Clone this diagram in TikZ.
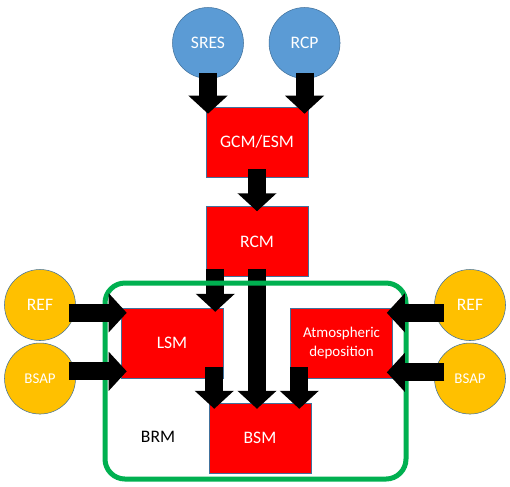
\documentclass[tikz,border=0pt]{standalone}
\usepackage{fontspec}
\setmainfont{Carlito}
\usepackage{tikz}
\usetikzlibrary{arrows.meta,positioning,calc}

\definecolor{modelred}{HTML}{FF0000}
\definecolor{driverblue}{HTML}{5B9BD5}
\definecolor{inputorange}{HTML}{FFC000}
\definecolor{edgeblue}{HTML}{41719C}
\definecolor{brmgreen}{HTML}{00B050}

\begin{document}
\begin{tikzpicture}[
    font=\fontsize{10}{11}\selectfont,
    % common styles
    model/.style={draw=edgeblue, line width=0.3pt, rectangle, minimum width=2.04cm, minimum height=1.4cm, align=center, fill=modelred, text=white, inner sep=1pt},
    driver/.style={draw=edgeblue, line width=0.3pt, circle, minimum size=1.42cm, inner sep=0pt, fill=driverblue, text=white},
    input/.style={draw=edgeblue, line width=0.3pt, circle, minimum size=1.42cm, inner sep=0pt, fill=inputorange, text=white},
    small/.style={font=\fontsize{8.5}{11.2}\selectfont},
    flow/.style={draw=black, line width=0.36cm, -{Triangle[length=0.36cm, width=0.76cm]}},
    brmbox/.style={draw=brmgreen, line width=0.1cm, rounded corners=0.4cm}
]
    \useasboundingbox (0,0) rectangle (10.2,-9.72);

    % --- 1. Nodes ---

    % scenarios on top
    \node[driver] (sres) at (4.16,-0.86) {SRES};
    \node[driver, right=0.5cm of sres] (rcp) {RCP};

    % model chain
    \node[model] (gcm) at (5.14,-2.84) {GCM/ESM};
    \node[model, below=0.58cm of gcm] (rcm) {RCM};
    \node[model, below=0.62cm of rcm, xshift=-1.7cm] (lsm) {LSM};
    \node[model, small, right=1.34cm of lsm] (atm) {Atmospheric\\deposition};
    \node[model, below=2.52cm of rcm, xshift=0.06cm] (bsm) {BSM};

    % inputs on both sides
    \node[input] (refL) at (0.80,-6.10) {REF};
    \node[input, small, below=0.04cm of refL] (bsapL) {BSAP};
    \node[input] (refR) at (9.40,-6.10) {REF};
    \node[input, small, below=0.04cm of refR] (bsapR) {BSAP};

    % --- 2. Paths ---

    % RCM -> LSM, RCM -> BSM (under the BRM frame)
    \draw[flow] ($(rcm.south -| lsm.east)+(-0.16,0.16)$) -- ($(lsm.north east)+(-0.16,-0.08)$);
    \draw[flow] ($(rcm.south)+(0,0.16)$) -- ($(rcm.south |- bsm.north)+(0,-0.12)$);

    % BRM frame
    \draw[brmbox] (2.1,-5.66) rectangle (8.12,-9.58);
    \node (brm) at (3.16,-8.74) {BRM};

    % scenarios -> GCM/ESM -> RCM
    \draw[flow] ($(sres.south)+(0,0.12)$) -- ($(sres |- gcm.north)+(0,-0.14)$);
    \draw[flow] ($(rcp.south)+(0,0.12)$) -- ($(rcp |- gcm.north)+(0,-0.14)$);
    \draw[flow] ($(gcm.south)+(0,0.16)$) -- ($(rcm.north)+(0,-0.1)$);

    % LSM, deposition -> BSM
    \draw[flow] ($(lsm.south east)+(-0.18,0.22)$) -- ($(lsm.south east |- bsm.north)+(-0.18,-0.12)$);
    \draw[flow] ($(atm.south west)+(0.18,0.22)$) -- ($(atm.south west |- bsm.north)+(0.18,-0.12)$);

    % side inputs
    \draw[flow] ($(refL.east |- lsm.north west)+(-0.14,-0.1)$) -- ($(lsm.north west)+(0.12,-0.1)$);
    \draw[flow] ($(bsapL.east |- lsm.south west)+(-0.14,0.14)$) -- ($(lsm.south west)+(0.12,0.14)$);
    \draw[flow] ($(refR.west |- atm.north east)+(0.2,-0.1)$) -- ($(atm.north east)+(-0.12,-0.1)$);
    \draw[flow] ($(bsapR.west |- atm.south east)+(0.2,0.12)$) -- ($(atm.south east)+(-0.12,0.12)$);

\end{tikzpicture}
\end{document}
